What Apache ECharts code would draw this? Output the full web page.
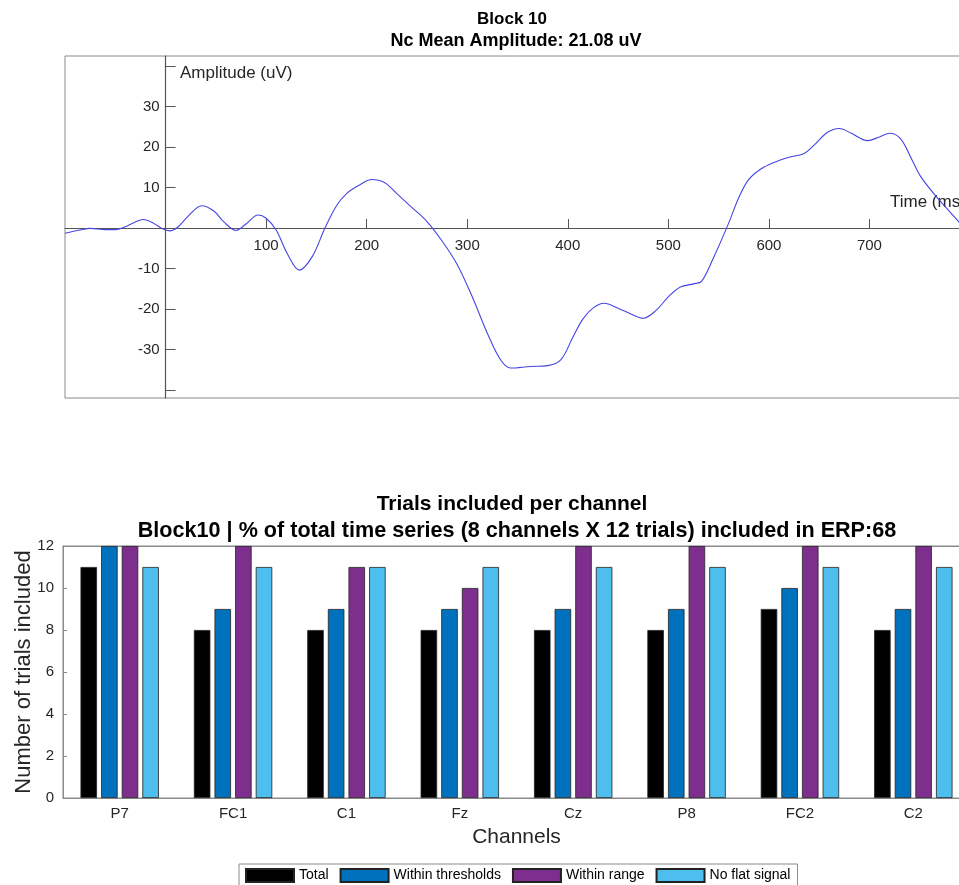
<!DOCTYPE html>
<html>
<head>
<meta charset="utf-8">
<script src="https://cdn.jsdelivr.net/npm/echarts@6/dist/echarts.min.js"></script>
<style>
html,body{margin:0;padding:0;background:#fff;}
#c{width:959px;height:885px;}
</style>
</head>
<body>
<div id="c"></div>
<script>
// ERP waveform
const times = [-100,-85,-75,-60,-50,-40,-30,-22,-12,-3,4,12,22,36,48,58,70,80,92,100,110,121,133,146,158,170,180,192,205,218,230,244,260,275,290,305,320,333,343,363,380,393,405,415,425,436,450,465,475,488,500,512,525,533,545,560,570,580,592,605,622,635,645,658,670,682,698,710,720,731,742,751,768,780,790,800];
const amplitudes = [-1.3,-0.5,-0.1,-0.4,-0.4,0.3,1.5,2.1,1.2,-0.2,-0.7,0.2,2.8,5.5,4.2,1.5,-0.6,1.0,3.2,2.4,-0.5,-6.3,-10.4,-7,-0.3,5.5,8.5,10.5,12,11.2,8.5,5.3,1.6,-3.2,-9,-17,-26,-32.5,-34.6,-34.2,-34,-32.6,-27,-22.5,-19.8,-18.6,-19.8,-21.5,-22.3,-20.3,-17,-14.6,-13.8,-13.2,-7.3,1.2,7.5,12,14.6,16.2,17.6,18.4,20.5,23.6,24.6,23.4,21.6,22.5,23.4,22,17,12.7,7.3,4,1.2,-1.5];
const xTicks = [100,200,300,400,500,600,700];
const yTickMarks = [-40,-30,-20,-10,10,20,30,40];
const yTickLabels = [-30,-20,-10,10,20,30];

// Trials per channel
const channels = ['P7','FC1','C1','Fz','Cz','P8','FC2','C2'];
const total = [11,8,8,8,8,8,9,8];
const withinThresholds = [12,9,9,9,9,9,10,9];
const withinRange = [12,12,11,10,12,12,12,12];
const noFlatSignal = [11,11,11,11,11,11,11,11];

const font = '"Liberation Sans", Arial, Helvetica, sans-serif';
const txt = '#262626';

const chart = echarts.init(document.getElementById('c'));
const bw = 16.5;
function barSeries(name, data, color){
  return {name, type:'bar', xAxisIndex:1, yAxisIndex:1, data, barWidth:bw, barGap:'25%',
    itemStyle:{color, borderColor:'#222', borderWidth:0.8}, emphasis:{disabled:true}};
}
chart.setOption({
  animation:false,
  textStyle:{fontFamily:font},
  graphic:[
    {type:'text', x:512, y:19, style:{text:'Block 10', font:'bold 17px '+font, fill:'#000', align:'center', verticalAlign:'middle'}},
    {type:'text', x:516, y:41, style:{text:'Nc Mean Amplitude: 21.08 uV', font:'bold 18px '+font, fill:'#000', align:'center', verticalAlign:'middle'}},
    {type:'text', x:180, y:73, style:{text:'Amplitude (uV)', font:'17px '+font, fill:txt, align:'left', verticalAlign:'middle'}},
    {type:'text', x:890, y:202, style:{text:'Time (ms)', font:'17px '+font, fill:txt, align:'left', verticalAlign:'middle'}},
    {type:'text', x:512, y:504, style:{text:'Trials included per channel', font:'bold 21px '+font, fill:'#000', align:'center', verticalAlign:'middle'}},
    {type:'text', x:517, y:531, style:{text:'Block10 | % of total time series (8 channels X 12 trials) included in ERP:68', font:'bold 21.6px '+font, fill:'#000', align:'center', verticalAlign:'middle'}}
  ],
  grid:[
    {left:65, top:56, width:905, height:342, show:true, borderColor:'#8a8a8a', borderWidth:1, backgroundColor:'transparent', outerBoundsMode:'none'},
    {left:63, top:546, width:907, height:252, show:true, borderColor:'#8a8a8a', borderWidth:1, backgroundColor:'transparent', outerBoundsMode:'none'}
  ],
  legend:{
    data:['Total','Within thresholds','Within range','No flat signal'],
    left:239, top:864, orient:'horizontal', icon:'rect',
    itemWidth:48, itemHeight:13, itemGap:11,
    padding:[4,7,4,6], borderColor:'#8a8a8a', borderWidth:1, backgroundColor:'#fff',
    textStyle:{fontSize:14, color:'#000', fontFamily:font},
    selectedMode:false
  },
  xAxis:[
    {type:'value', gridIndex:0, min:-100, max:800, interval:100, position:'bottom', offset:-170,
     axisLine:{onZero:false, lineStyle:{color:'#555', width:1.2}},
     axisTick:{inside:true, length:9, lineStyle:{color:'#555'}, customValues:xTicks},
     axisLabel:{color:txt, fontSize:15, margin:10, customValues:xTicks},
     splitLine:{show:false}},
    {type:'category', gridIndex:1, data:channels, boundaryGap:true,
     axisLine:{lineStyle:{color:'#8a8a8a'}},
     axisTick:{alignWithLabel:true, inside:true, length:5, lineStyle:{color:'#8a8a8a'}},
     axisLabel:{color:txt, fontSize:15, margin:8},
     name:'Channels', nameLocation:'middle', nameGap:29,
     nameTextStyle:{fontSize:21, color:txt}},
    {type:'category', gridIndex:1, data:channels, position:'top', boundaryGap:true,
     axisLine:{lineStyle:{color:'#8a8a8a'}},
     axisTick:{alignWithLabel:true, inside:true, length:5, lineStyle:{color:'#8a8a8a'}},
     axisLabel:{show:false}}
  ],
  yAxis:[
    {type:'value', gridIndex:0, min:-42, max:42.5, position:'left', offset:-100.6,
     axisLine:{onZero:false, lineStyle:{color:'#555', width:1.2}},
     axisTick:{inside:true, length:10, lineStyle:{color:'#555'}, customValues:yTickMarks},
     axisLabel:{color:txt, fontSize:15, margin:6, customValues:yTickLabels},
     splitLine:{show:false}},
    {type:'value', gridIndex:1, min:0, max:12, interval:2,
     axisLine:{show:true, lineStyle:{color:'#8a8a8a'}},
     axisTick:{show:true, inside:true, length:4, lineStyle:{color:'#8a8a8a'}},
     axisLabel:{color:txt, fontSize:15, margin:9},
     splitLine:{show:false},
     name:'Number of trials included', nameLocation:'middle', nameGap:28, nameMoveOverlap:false,
     nameTextStyle:{fontSize:22, color:txt}}
  ],
  series:[
    {type:'line', xAxisIndex:0, yAxisIndex:0, data:times.map((t,i)=>[t, amplitudes[i]]),
     smooth:0.35, showSymbol:false, lineStyle:{color:'#4545e6', width:1.1}, emphasis:{disabled:true}},
    barSeries('Total', total, '#000000'),
    barSeries('Within thresholds', withinThresholds, '#0072BD'),
    barSeries('Within range', withinRange, '#7E2F8E'),
    barSeries('No flat signal', noFlatSignal, '#4DBEEE')
  ]
});
</script>
</body>
</html>
